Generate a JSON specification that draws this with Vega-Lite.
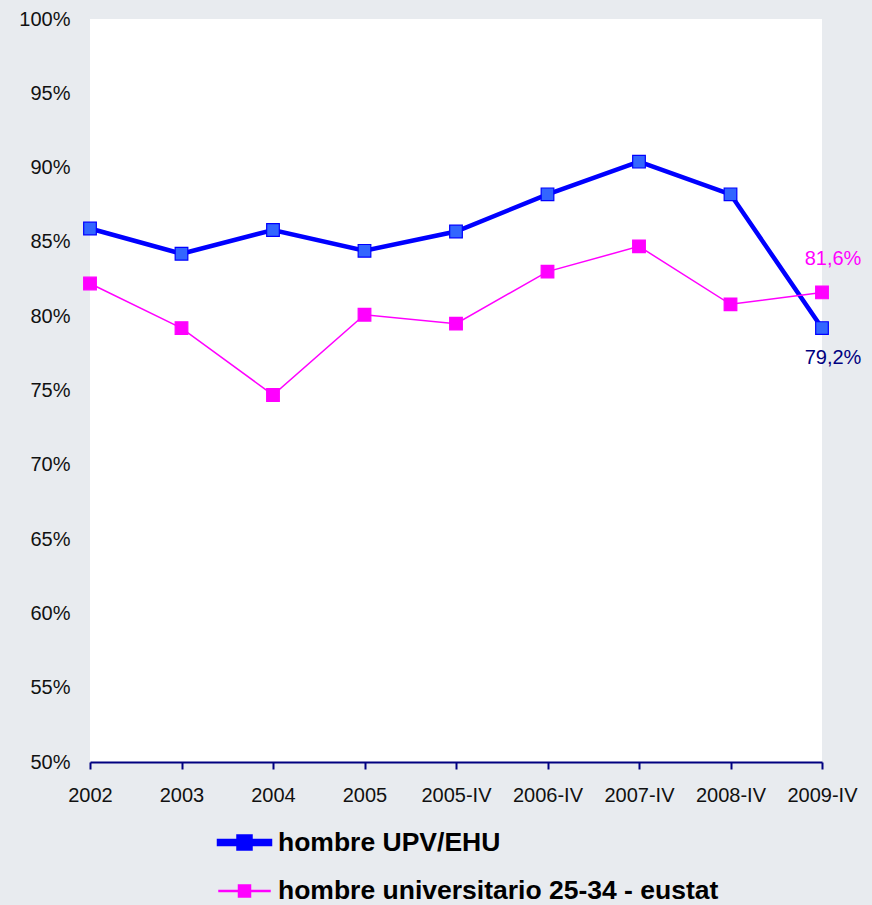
{
  "$schema": "https://vega.github.io/schema/vega-lite/v6.json",
  "width": 732,
  "height": 743,
  "autosize": {"type": "none"},
  "padding": {"left": 90, "top": 19, "right": 50, "bottom": 143},
  "background": "#e8ebef",
  "config": {
    "view": {"fill": "white", "stroke": null},
    "font": "Liberation Sans"
  },
  "data": {
    "values": [
      {"period": "2002", "series": "hombre UPV/EHU", "value": 0.859},
      {"period": "2003", "series": "hombre UPV/EHU", "value": 0.842},
      {"period": "2004", "series": "hombre UPV/EHU", "value": 0.858},
      {"period": "2005", "series": "hombre UPV/EHU", "value": 0.844},
      {"period": "2005-IV", "series": "hombre UPV/EHU", "value": 0.857},
      {"period": "2006-IV", "series": "hombre UPV/EHU", "value": 0.882},
      {"period": "2007-IV", "series": "hombre UPV/EHU", "value": 0.904},
      {"period": "2008-IV", "series": "hombre UPV/EHU", "value": 0.882},
      {"period": "2009-IV", "series": "hombre UPV/EHU", "value": 0.792, "label": "79,2%"},
      {"period": "2002", "series": "hombre universitario 25-34 - eustat", "value": 0.822},
      {"period": "2003", "series": "hombre universitario 25-34 - eustat", "value": 0.792},
      {"period": "2004", "series": "hombre universitario 25-34 - eustat", "value": 0.747},
      {"period": "2005", "series": "hombre universitario 25-34 - eustat", "value": 0.801},
      {"period": "2005-IV", "series": "hombre universitario 25-34 - eustat", "value": 0.795},
      {"period": "2006-IV", "series": "hombre universitario 25-34 - eustat", "value": 0.830},
      {"period": "2007-IV", "series": "hombre universitario 25-34 - eustat", "value": 0.847},
      {"period": "2008-IV", "series": "hombre universitario 25-34 - eustat", "value": 0.808},
      {"period": "2009-IV", "series": "hombre universitario 25-34 - eustat", "value": 0.816, "label": "81,6%"}
    ]
  },
  "encoding": {
    "x": {
      "field": "period",
      "type": "ordinal",
      "sort": null,
      "scale": {"type": "point", "padding": 0},
      "axis": {
        "title": null,
        "labelAngle": 0,
        "labelFontSize": 20,
        "labelColor": "#111111",
        "labelPadding": 16,
        "domainColor": "#000080",
        "domainWidth": 2,
        "tickColor": "#000080",
        "tickWidth": 2,
        "tickSize": 7,
        "grid": false
      }
    },
    "y": {
      "field": "value",
      "type": "quantitative",
      "scale": {"domain": [0.5, 1], "nice": false, "zero": false},
      "axis": {
        "title": null,
        "format": ".0%",
        "values": [0.5, 0.55, 0.6, 0.65, 0.7, 0.75, 0.8, 0.85, 0.9, 0.95, 1.0],
        "labelFontSize": 20,
        "labelColor": "#111111",
        "labelPadding": 20,
        "domain": false,
        "ticks": false,
        "grid": false
      }
    }
  },
  "layer": [
    {
      "mark": {"type": "line"},
      "encoding": {
        "color": {
          "field": "series",
          "type": "nominal",
          "scale": {"domain": ["hombre UPV/EHU", "hombre universitario 25-34 - eustat"], "range": ["#0000ff", "#ff00ff"]},
          "legend": {
            "title": null,
            "orient": "none",
            "legendX": 137,
            "legendY": 806,
            "direction": "vertical",
            "labelFontSize": 26.5,
            "labelFontWeight": "bold",
            "labelColor": "#000000",
            "labelOffset": 16,
            "labelLimit": 700,
            "rowPadding": 17,
            "symbolSize": 900,
            "symbolStrokeWidth": 1,
            "encode": {
              "symbols": {
                "update": {
                  "shape": {"signal": "datum.value == 'hombre UPV/EHU' ? 'M-1.7,-0.1H1.7V0.1H-1.7Z M-0.4,-0.4H0.4V0.4H-0.4Z' : 'M-1.7,-0.035H1.7V0.035H-1.7Z M-0.4,-0.4H0.4V0.4H-0.4Z'"},
                  "fill": {"signal": "datum.value == 'hombre UPV/EHU' ? '#3366ff' : '#ff00ff'"},
                  "stroke": {"signal": "datum.value == 'hombre UPV/EHU' ? '#0000ff' : '#ff00ff'"},
                  "strokeWidth": {"value": 1},
                  "opacity": {"value": 1},
                  "fillOpacity": {"value": 1}
                }
              }
            }
          }
        },
        "strokeWidth": {
          "field": "series",
          "type": "nominal",
          "scale": {"domain": ["hombre UPV/EHU", "hombre universitario 25-34 - eustat"], "range": [4.5, 1.5]},
          "legend": null
        }
      }
    },
    {
      "mark": {"type": "point", "shape": "square", "filled": true, "opacity": 1, "strokeWidth": 1.2},
      "encoding": {
        "fill": {
          "field": "series",
          "type": "nominal",
          "scale": {"domain": ["hombre UPV/EHU", "hombre universitario 25-34 - eustat"], "range": ["#3366ff", "#ff00ff"]},
          "legend": null
        },
        "stroke": {
          "field": "series",
          "type": "nominal",
          "scale": {"domain": ["hombre UPV/EHU", "hombre universitario 25-34 - eustat"], "range": ["#0000ff", "#ff00ff"]},
          "legend": null
        },
        "size": {"value": 160}
      }
    },
    {
      "transform": [{"filter": "datum.label != null && datum.series == 'hombre UPV/EHU'"}],
      "mark": {"type": "text", "fontSize": 20, "dx": 11, "dy": 30, "color": "#000080"},
      "encoding": {
        "text": {"field": "label"}
      }
    },
    {
      "transform": [{"filter": "datum.label != null && datum.series != 'hombre UPV/EHU'"}],
      "mark": {"type": "text", "fontSize": 20, "dx": 11, "dy": -33, "color": "#ff00ff"},
      "encoding": {
        "text": {"field": "label"}
      }
    }
  ]
}
